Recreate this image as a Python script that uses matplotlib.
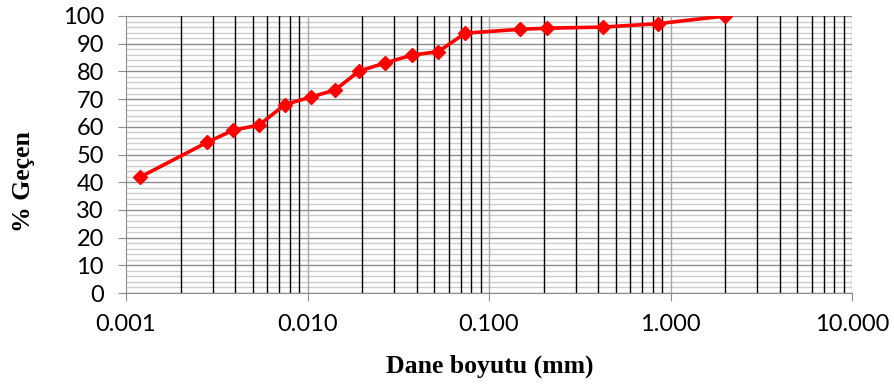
import numpy as np
import matplotlib
matplotlib.use('Agg')
import matplotlib.pyplot as plt
from matplotlib.ticker import LogLocator, FormatStrFormatter, MultipleLocator, NullFormatter

# grain size (mm) and percent passing
dane = [0.0012, 0.0028, 0.0039, 0.0054, 0.0075, 0.0105, 0.0142, 0.0192, 0.0267,
        0.0377, 0.0524, 0.074, 0.149, 0.21, 0.425, 0.85, 2.0]
gecen = [41.9, 54.4, 58.8, 60.6, 68.0, 70.8, 73.3, 80.1, 83.0,
         85.9, 87.1, 93.8, 95.2, 95.6, 96.0, 97.2, 100.0]

fig = plt.figure(figsize=(8.94, 3.88), dpi=100)
ax = fig.add_axes([0.141, 0.2448, 0.812, 0.714])

ax.set_xscale('log')
ax.set_xlim(0.001, 10)
ax.set_ylim(0, 100)

ax.xaxis.set_major_locator(LogLocator(base=10, numticks=10))
ax.xaxis.set_minor_locator(LogLocator(base=10, subs=np.arange(2, 10), numticks=20))
ax.xaxis.set_major_formatter(FormatStrFormatter('%.3f'))
ax.xaxis.set_minor_formatter(NullFormatter())
ax.yaxis.set_major_locator(MultipleLocator(10))
ax.yaxis.set_minor_locator(MultipleLocator(2))

# horizontal grid (under), vertical lines on top like the excel chart
ax.grid(which='major', axis='y', color='#8c8c8c', lw=1.0, zorder=0.5)
ax.grid(which='minor', axis='y', color='#cccccc', lw=1.0, zorder=0.5)
ax.set_axisbelow(True)
for xv in ax.xaxis.get_majorticklocs():
    if 0.001 < xv <= 10:
        ax.axvline(xv, color='#a6a6a6', lw=1.0, zorder=1.5)
for xv in ax.xaxis.get_minorticklocs():
    if 0.001 < xv < 10:
        ax.axvline(xv, color='#000000', lw=1.0, zorder=1.6)

ax.plot(dane, gecen, color='#ff0000', lw=2.6, marker='D', ms=7.5, zorder=3)

for s in ['top', 'right']:
    ax.spines[s].set_visible(False)
for s in ['left', 'bottom']:
    ax.spines[s].set_color('#8c8c8c')

ax.tick_params(which='major', length=6, color='#8c8c8c', labelsize=17)
ax.tick_params(which='minor', length=0)
ax.tick_params(axis='y', pad=10)
ax.tick_params(axis='x', pad=9)
for lab in ax.get_xticklabels() + ax.get_yticklabels():
    lab.set_fontfamily('Lato')

fig.text(0.548, 0.057, 'Dane boyutu (mm)', ha='center', va='center',
         fontfamily='Liberation Serif', fontweight='bold', fontsize=18.5)
fig.text(0.026, 0.532, '% Geçen', ha='center', va='center', rotation=90,
         fontfamily='Liberation Serif', fontweight='bold', fontsize=18.5)

fig.savefig('out.png', dpi=100)
